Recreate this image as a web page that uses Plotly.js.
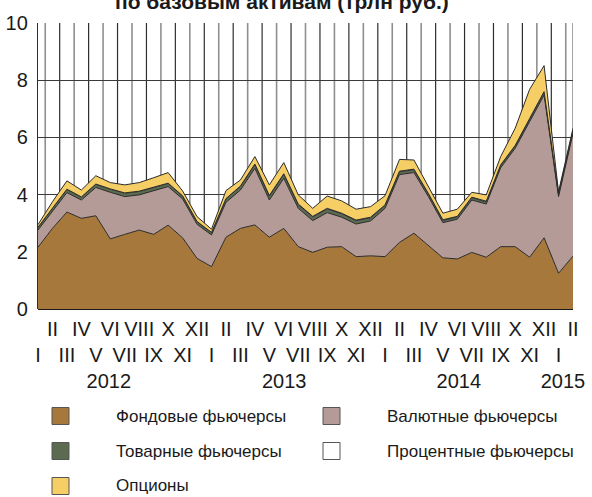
<!DOCTYPE html>
<html>
<head>
<meta charset="utf-8">
<script src="https://cdn.plot.ly/plotly-3.0.1.min.js"></script>
<style>
  html, body { margin: 0; padding: 0; background: #fff; }
  #chart { width: 592px; height: 497px; }
</style>
</head>
<body>
<div id="chart"></div>
<script>
// Months Jan 2012 .. Feb 2015
const monthLabels = ['I','II','III','IV','V','VI','VII','VIII','IX','X','XI','XII',
                     'I','II','III','IV','V','VI','VII','VIII','IX','X','XI','XII',
                     'I','II','III','IV','V','VI','VII','VIII','IX','X','XI','XII',
                     'I','II'];
const yearLabels = ['2012', '2013', '2014', '2015'];
const yearLabelPos = [4.9, 17.03, 29.1, 36.3];

const seriesNames = ['Фондовые фьючерсы', 'Валютные фьючерсы', 'Товарные фьючерсы', 'Процентные фьючерсы', 'Опционы'];

const stockFut = [2.16,2.82,3.39,3.17,3.26,2.45,2.61,2.76,2.61,2.93,2.49,1.77,
                  1.48,2.51,2.82,2.94,2.51,2.82,2.18,1.98,2.16,2.18,1.83,1.86,
                  1.83,2.33,2.65,2.21,1.79,1.75,1.98,1.81,2.18,2.18,1.81,2.49,
                  1.25,1.85];
const currencyFut = [0.60,0.58,0.68,0.64,0.99,1.63,1.32,1.23,1.52,1.35,1.36,1.19,
                     1.11,1.22,1.34,1.98,1.30,1.75,1.34,1.11,1.21,1.03,1.14,1.22,
                     1.69,2.37,2.12,1.72,1.23,1.39,1.83,1.86,2.76,3.44,4.74,4.99,
                     2.68,4.29];
const commodityFut = [0.09,0.10,0.11,0.10,0.11,0.11,0.12,0.12,0.11,0.11,0.10,0.09,
                      0.08,0.12,0.13,0.13,0.14,0.14,0.13,0.13,0.13,0.12,0.12,0.11,
                      0.10,0.10,0.10,0.09,0.08,0.08,0.08,0.08,0.08,0.08,0.09,0.10,
                      0.08,0.08];
const interestFut = [0.01,0.01,0.01,0.01,0.01,0.01,0.01,0.01,0.01,0.01,0.01,0.01,
                     0.01,0.01,0.01,0.02,0.02,0.02,0.02,0.02,0.02,0.02,0.02,0.02,
                     0.02,0.02,0.02,0.02,0.02,0.02,0.02,0.02,0.02,0.02,0.02,0.02,
                     0.02,0.02];
const optionsVol = [0.09,0.24,0.29,0.24,0.29,0.22,0.28,0.30,0.34,0.37,0.17,0.17,
                    0.11,0.28,0.21,0.26,0.37,0.39,0.32,0.28,0.43,0.43,0.38,0.37,
                    0.32,0.41,0.32,0.24,0.23,0.25,0.17,0.22,0.29,0.60,1.02,0.91,
                    0.07,0.08];

const seriesValues = [stockFut, currencyFut, commodityFut, interestFut, optionsVol];
const seriesColors = ['#A7783B', '#B59B97', '#5B6A50', '#FFFFFF', '#F6CE66'];

const FONT = '"Liberation Sans Narrow", "Liberation Sans", Arial, sans-serif';
const xIdx = monthLabels.map((_, i) => i);

const traces = seriesValues.map((vals, s) => ({
  type: 'scatter',
  mode: 'lines',
  x: xIdx,
  y: vals,
  name: seriesNames[s],
  stackgroup: 'one',
  fillcolor: seriesColors[s],
  line: { color: '#2b2b2b', width: 1 },
  hoverinfo: 'skip',
  showlegend: false
}));

// plot geometry in pixels
const W = 592, H = 497;
const M = { l: 38, r: 19, t: 23, b: 188 };
const PW = W - M.l - M.r, PH = H - M.t - M.b;
const px2x = px => (px - M.l) / PW;
const py2y = py => (H - M.b - py) / PH;

// tick labels: even months on upper row, odd months on lower row, years on third row
const tickVals = [], tickText = [];
xIdx.forEach(i => {
  tickVals.push(i);
  tickText.push(i % 2 === 1 ? monthLabels[i] : '<br>' + monthLabels[i]);
});
yearLabels.forEach((y, j) => {
  tickVals.push(yearLabelPos[j]);
  tickText.push('<br><br>' + y);
});

const shapes = [];
// vertical grid lines between months, alternating dark / grey
for (let i = 0; i < monthLabels.length - 1; i++) {
  const dark = i % 2 === 1;
  shapes.push({
    type: 'line', layer: 'below', xref: 'x', yref: 'paper',
    x0: i + 0.5, x1: i + 0.5, y0: 0, y1: 1,
    line: { color: dark ? '#2e2e2e' : '#8f8f8f', width: dark ? 1.2 : 1.6 }
  });
}
shapes.push({
  type: 'line', layer: 'below', xref: 'x', yref: 'paper',
  x0: monthLabels.length - 1, x1: monthLabels.length - 1, y0: 0, y1: 1,
  line: { color: '#8f8f8f', width: 1.6 }
});

const tickFont = { family: FONT, size: 20, color: '#1a1a1a' };

const layout = {
  width: W, height: H,
  margin: M,
  paper_bgcolor: '#ffffff',
  plot_bgcolor: '#ffffff',
  showlegend: false,
  xaxis: {
    range: [0, monthLabels.length - 1], fixedrange: true,
    zeroline: false, showline: false, showgrid: false,
    tickvals: tickVals, ticktext: tickText, tickangle: 0,
    ticks: '', tickfont: tickFont, ticklabelstandoff: 6
  },
  yaxis: {
    range: [0, 10], fixedrange: true, tickvals: [0, 2, 4, 6, 8, 10],
    showgrid: true, gridcolor: '#3a3a3a', gridwidth: 1.2,
    zeroline: true, zerolinecolor: '#1a1a1a', zerolinewidth: 1.5,
    showline: true, linecolor: '#2e2e2e', linewidth: 1.2,
    ticks: '', tickfont: tickFont, ticklabelstandoff: 5
  },
  shapes: shapes,
  annotations: [
    {
      text: '<b>по базовым активам (трлн руб.)</b>',
      xref: 'paper', yref: 'paper', x: px2x(282), y: 1,
      xanchor: 'center', yanchor: 'bottom', yshift: 8, showarrow: false,
      font: { family: FONT, size: 21, color: '#1a1a1a' }
    }
  ]
};

// Legend (built from series names and colours)
const legendCols = [[52, 114], [323, 385]];
const legendRows = [416, 451, 486];
seriesNames.forEach((name, n) => {
  const col = legendCols[n % 2], row = legendRows[Math.floor(n / 2)];
  layout.shapes.push({
    type: 'rect', xref: 'paper', yref: 'paper',
    x0: px2x(col[0]), x1: px2x(col[0] + 17),
    y0: py2y(row - 8.5), y1: py2y(row + 8.5),
    fillcolor: seriesColors[n], line: { color: '#555555', width: 1 }
  });
  layout.annotations.push({
    text: name, xref: 'paper', yref: 'paper',
    x: px2x(col[1]), y: py2y(row), xanchor: 'left', yanchor: 'middle',
    showarrow: false, font: { family: FONT, size: 17, color: '#1a1a1a' }
  });
});

Plotly.newPlot('chart', traces, layout, { staticPlot: true, displayModeBar: false });
</script>
</body>
</html>
